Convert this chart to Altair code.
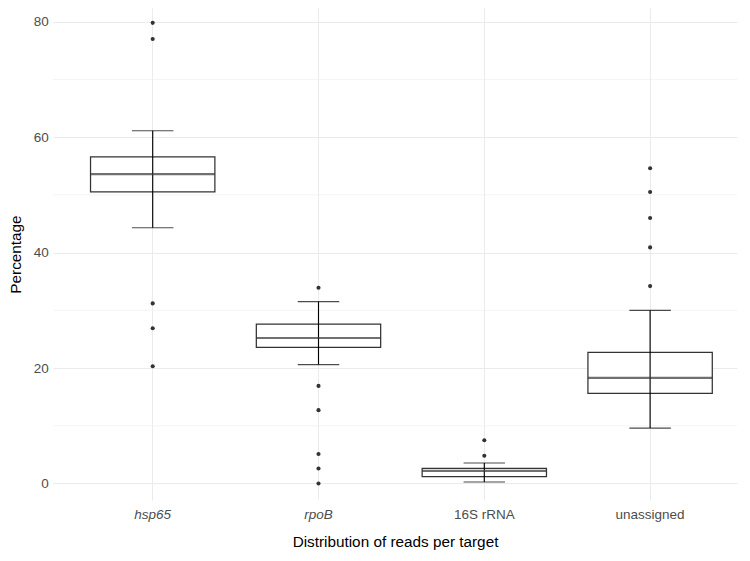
import altair as alt
import pandas as pd

# ---- data ----
categories = ["hsp65", "rpoB", "16S rRNA", "unassigned"]
lower_whisker = [44.3, 20.6, 0.26, 9.6]
q1 = [50.5, 23.6, 1.2, 15.6]
median = [53.6, 25.2, 2.2, 18.3]
q3 = [56.6, 27.6, 2.6, 22.7]
upper_whisker = [61.1, 31.5, 3.55, 30.0]

outlier_cat = ["hsp65", "hsp65", "hsp65", "hsp65", "hsp65",
               "rpoB", "rpoB", "rpoB", "rpoB", "rpoB", "rpoB",
               "16S rRNA", "16S rRNA",
               "unassigned", "unassigned", "unassigned", "unassigned", "unassigned"]
outlier_val = [79.8, 77.0, 31.2, 26.9, 20.3,
               33.9, 16.9, 12.7, 5.1, 2.6, 0.0,
               7.5, 4.8,
               54.6, 50.5, 46.0, 40.9, 34.2]

y_ticks = [0, 20, 40, 60, 80]
minor_breaks = [10, 30, 50, 70]

summary = pd.DataFrame({
    "target": categories, "lo": lower_whisker, "q1": q1,
    "med": median, "q3": q3, "hi": upper_whisker,
})
outliers = pd.DataFrame({"target": outlier_cat, "value": outlier_val})
minor = pd.DataFrame({"v": minor_breaks})

W, H = 684, 492
YDOM = [-2.86, 82.37]

xscale = alt.Scale(domain=categories, paddingInner=0, paddingOuter=0.0627, align=0.808)
yscale = alt.Scale(domain=YDOM, nice=False, zero=False)

italic_cond = {"condition": {"test": "datum.value == 'hsp65' || datum.value == 'rpoB'",
                             "value": "italic"}, "value": "normal"}

x_enc = alt.X("target:N", scale=xscale, sort=categories,
              axis=alt.Axis(title="Distribution of reads per target", labelAngle=0,
                            labelPadding=7, titlePadding=14, ticks=False, domain=False,
                            grid=True, gridColor="#EBEBEB", gridWidth=1.07,
                            bandPosition=0.5,
                            labelFontStyle=italic_cond))

y_axis = alt.Axis(title="Percentage", values=y_ticks, grid=True, gridColor="#EBEBEB",
                  gridWidth=1.07, domain=False, ticks=False, labelPadding=4.7,
                  titlePadding=10)

minor_layer = alt.Chart(minor).mark_rule(color="#EBEBEB", strokeWidth=0.55).encode(
    y=alt.Y("v:Q", scale=yscale, axis=y_axis)
)

box = alt.Chart(summary).mark_bar(
    width=alt.RelativeBandSize(0.75), fill="white", stroke="#333333", strokeWidth=1.25
).encode(
    x=x_enc,
    y=alt.Y("q1:Q", scale=yscale, axis=y_axis),
    y2="q3:Q",
)

whisker = alt.Chart(summary).mark_rule(color="black", strokeWidth=1.15).encode(
    x=alt.X("target:N", scale=xscale, sort=categories),
    y=alt.Y("lo:Q", scale=yscale),
    y2="hi:Q",
)

cap_hi = alt.Chart(summary).mark_tick(color="black", size=41.5, thickness=1.15).encode(
    x=alt.X("target:N", scale=xscale, sort=categories),
    y=alt.Y("hi:Q", scale=yscale),
)
cap_lo = alt.Chart(summary).mark_tick(color="black", size=41.5, thickness=1.15).encode(
    x=alt.X("target:N", scale=xscale, sort=categories),
    y=alt.Y("lo:Q", scale=yscale),
)

med = alt.Chart(summary).mark_tick(color="#333333", size=124.4, thickness=2.2).encode(
    x=alt.X("target:N", scale=xscale, sort=categories),
    y=alt.Y("med:Q", scale=yscale),
)

pts = alt.Chart(outliers).mark_circle(color="#333333", opacity=1, size=17).encode(
    x=alt.X("target:N", scale=xscale, sort=categories),
    y=alt.Y("value:Q", scale=yscale),
)

chart = alt.layer(minor_layer, box, whisker, cap_hi, cap_lo, med, pts).properties(
    width=W, height=H, padding={"left": 0, "top": 0, "right": 0, "bottom": 0},
    background="white",
).configure_view(stroke=None).configure_axis(
    labelFont="Liberation Sans", titleFont="Liberation Sans",
    labelFontSize=13.5, labelColor="#4D4D4D",
    titleFontSize=15.3, titleFontWeight="normal", titleColor="black",
)

chart.save("out.html", embed_options={"renderer": "svg", "actions": False})
